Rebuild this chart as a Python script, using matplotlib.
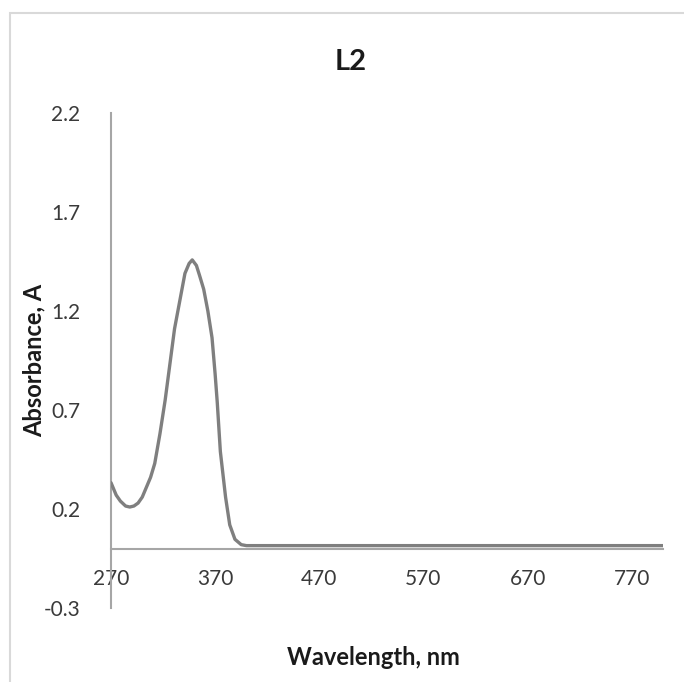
import matplotlib.pyplot as plt
from matplotlib.patches import Rectangle

# UV-Vis spectrum of L2
wavelength = [270, 275, 279, 284, 288, 292, 296, 300, 304, 308, 312, 317,
              322, 327, 331, 336, 341, 345, 348, 352, 355, 359, 363, 367,
              370, 372, 375, 380, 384, 389, 395, 400, 450, 500, 550, 600,
              650, 700, 750, 800]
absorbance = [0.333, 0.27, 0.24, 0.215, 0.21, 0.215, 0.23, 0.26, 0.31, 0.36,
              0.43, 0.58, 0.75, 0.95, 1.11, 1.25, 1.39, 1.44, 1.458, 1.43,
              1.38, 1.31, 1.20, 1.065, 0.88, 0.74, 0.49, 0.26, 0.12, 0.047,
              0.02, 0.015, 0.015, 0.015, 0.015, 0.015, 0.015, 0.015, 0.015,
              0.015]

x_ticks = [270, 370, 470, 570, 670, 770]
y_ticks = [-0.3, 0.2, 0.7, 1.2, 1.7, 2.2]

plt.rcParams['font.family'] = ['Lato', 'DejaVu Sans']

fig = plt.figure(figsize=(6.84, 6.82), dpi=100)
# chart frame
fig.patches.append(Rectangle((10 / 684, -0.1), 1.2, 1 - 13 / 682 + 0.1,
                             transform=fig.transFigure, fill=False,
                             edgecolor='#d9d9d9', linewidth=1.5))

ax = fig.add_axes([111 / 684, 1 - 608 / 682, 552 / 684, 495 / 682])
ax.plot(wavelength, absorbance, color='#7f7f7f', linewidth=2.4,
        solid_joinstyle='round', solid_capstyle='round', zorder=3)

ax.set_xlim(270, 800)
ax.set_ylim(-0.3, 2.2)
ax.set_xticks(x_ticks)
ax.set_yticks(y_ticks)
ax.set_yticklabels([f'{v:.1f}' for v in y_ticks])

for side in ['top', 'right']:
    ax.spines[side].set_visible(False)
ax.spines['bottom'].set_position(('data', 0))
for side in ['left', 'bottom']:
    ax.spines[side].set_color('#a6a6a6')
    ax.spines[side].set_linewidth(1.5)

ax.tick_params(axis='both', length=0, labelsize=15, colors='#3a3a3a')
ax.tick_params(axis='x', pad=15)
ax.tick_params(axis='y', pad=22)

fig.text(351 / 684, 1 - 62 / 682, 'L2', fontsize=21, fontweight='bold',
         color='#1a1a1a', ha='center', va='center')
ax.set_xlabel('Wavelength, nm', fontsize=17, fontweight='bold',
              color='#1a1a1a')
ax.xaxis.set_label_coords(0.475, -0.076)
ax.set_ylabel('Absorbance, A', fontsize=17, fontweight='bold',
              color='#1a1a1a')
ax.yaxis.set_label_coords(-0.118, 0.5)

fig.savefig('out.png', dpi=100)
